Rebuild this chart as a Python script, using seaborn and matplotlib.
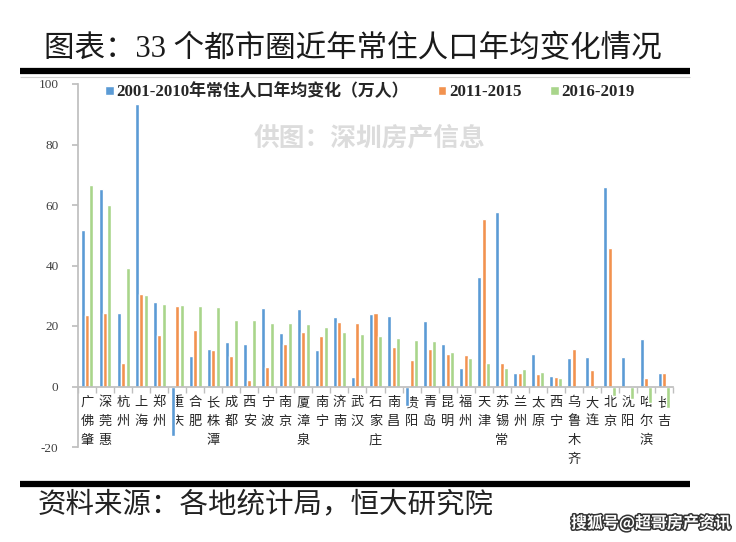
import matplotlib
matplotlib.use("Agg")
import matplotlib.pyplot as plt
import matplotlib.patheffects as pe
from matplotlib.lines import Line2D
import numpy as np
import pandas as pd
import seaborn as sns

# -------------------------------------------------------- #
# data (万人 per year)

cities = ["广佛肇", "深莞惠", "杭州", "上海", "郑州", "重庆", "合肥", "长株潭", "成都", "西安",
          "宁波", "南京", "厦漳泉", "南宁", "济南", "武汉", "石家庄", "南昌", "贵阳", "青岛",
          "昆明", "福州", "天津", "苏锡常", "兰州", "太原", "西宁", "乌鲁木齐", "大连", "北京",
          "沈阳", "哈尔滨", "长吉"]

periods = ["2001-2010年常住人口年均变化（万人）", "2011-2015", "2016-2019"]

v_2001_2010 = [51.9, 65.2, 24.2, 93.4, 27.9, -16.5, 10.0, 12.5, 14.6, 14.1,
               25.9, 17.8, 25.6, 12.1, 23.0, 3.3, 23.9, 23.2, -6.5, 21.5,
               14.1, 6.1, 36.2, 57.8, 4.5, 10.8, 3.6, 9.5, 9.8, 65.8,
               9.8, 15.7, 4.6]
v_2011_2015 = [23.6, 24.2, 7.9, 30.7, 16.9, 26.5, 18.7, 12.0, 10.0, 2.2,
               6.6, 13.9, 18.0, 16.6, 21.2, 21.1, 24.3, 13.2, 8.9, 12.4,
               10.8, 10.4, 55.3, 7.8, 4.5, 4.1, 3.2, 12.3, 5.4, 45.9,
               0.0, 2.9, 4.4]
v_2016_2019 = [66.7, 60.0, 39.3, 30.2, 27.4, 27.0, 26.6, 26.3, 22.1, 22.1,
               21.1, 21.0, 20.6, 19.8, 17.9, 17.4, 16.6, 16.1, 15.3, 15.1,
               11.3, 9.5, 7.7, 6.2, 5.7, 4.7, 2.9, 0.3, -0.8, -3.0,
               -4.1, -5.5, -7.0]

colors = ["#5B9BD5", "#F2924F", "#A9D58B"]

df = pd.DataFrame({
    "city": cities * 3,
    "period": [periods[0]] * 33 + [periods[1]] * 33 + [periods[2]] * 33,
    "value": v_2001_2010 + v_2011_2015 + v_2016_2019,
})

# -------------------------------------------------------- #

sns.set_theme(style="white")
serif_cjk = ["Liberation Serif", "Noto Sans CJK SC", "DejaVu Sans"]
sans_cjk = ["Noto Sans CJK SC", "DejaVu Sans"]
plt.rcParams["font.family"] = sans_cjk
plt.rcParams["axes.unicode_minus"] = False

fig = plt.figure(figsize=(7.36, 5.42), dpi=100)
ax = fig.add_axes([78 / 736, 1 - 447 / 542, 595 / 736, 363 / 542])

sns.barplot(
    data=df, x="city", y="value", hue="period",
    palette=colors, width=0.74, gap=0.1, errorbar=None,
    saturation=1, ax=ax,
)

ax.set_xlim(-0.5, 32.5)
ax.set_ylim(-20, 100)
ax.set_xlabel("")
ax.set_ylabel("")

# axes: grey left spine, x axis sitting on zero
for s in ["top", "right"]:
    ax.spines[s].set_visible(False)
ax.spines["left"].set_color("#BFBFBF")
ax.spines["bottom"].set_color("#BFBFBF")
ax.spines["bottom"].set_position(("data", 0))

ax.set_yticks(range(-20, 101, 20))
ax.set_yticklabels([str(t) for t in range(-20, 101, 20)],
                   fontfamily=serif_cjk, fontsize=9.5, color="#404040")
ax.tick_params(axis="y", direction="out", length=4, color="#BFBFBF", pad=10, left=True)

ax.set_xticks(range(len(cities)))
ax.set_xticklabels(["\n".join(c) for c in cities], fontsize=9.5,
                   linespacing=1.6, color="#262626", va="top")
ax.tick_params(axis="x", which="major", length=0, pad=7)
ax.set_xticks(np.arange(-0.5, 33, 1), minor=True)
ax.tick_params(axis="x", which="minor", direction="out", length=4,
               color="#BFBFBF", bottom=True)

# legend along the top of the plot
sns.move_legend(
    ax, "center", bbox_to_anchor=(370 / 736, 1 - 92 / 542), bbox_transform=fig.transFigure,
    ncol=3, frameon=False, title=None, handlelength=0.5, handleheight=0.5,
    handletextpad=0.15, columnspacing=1.7,
    prop={"family": serif_cjk, "weight": "bold", "size": 12.2},
)

# watermark inside the chart
fig.text(370 / 736, 1 - 138 / 542, "供图：深圳房产信息", ha="center", va="center",
         fontsize=18.5, fontweight="bold", color="#DCDCDC")

# title and rules
fig.text(353 / 736, 1 - 50 / 542, "图表：33 个都市圈近年常住人口年均变化情况",
         ha="center", va="center", fontsize=22, family=serif_cjk, color="#1a1a1a")
for y, lw, c in [(71, 4.5, "black"), (76.5, 0.8, "#D0D0D0"), (484, 4.5, "black")]:
    fig.add_artist(Line2D([20 / 736, 690 / 736], [1 - y / 542] * 2, lw=lw, color=c,
                          solid_capstyle="butt"))

# source line
fig.text(38 / 736, 1 - 504 / 542, "资料来源：各地统计局，恒大研究院", ha="left", va="center",
         fontsize=20.5, color="#222222")

# site stamp, bottom right
fig.text(731 / 736, 1 - 523 / 542, "搜狐号@超哥房产资讯", ha="right", va="center",
         fontsize=11.5, fontweight="bold", color="white",
         path_effects=[pe.withStroke(linewidth=2.2, foreground="#333333")])

fig.savefig("out.png", dpi=100, facecolor="white")
